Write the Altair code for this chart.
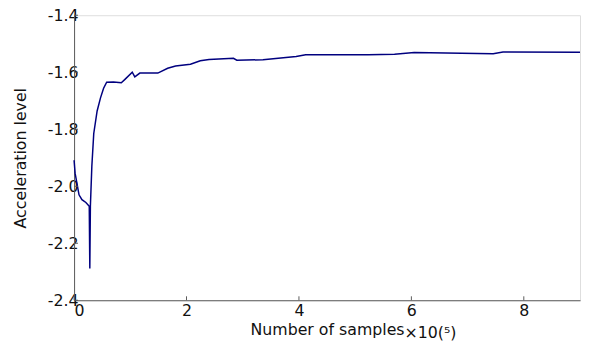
import altair as alt
import pandas as pd

# Curve (x in units of 1e5 samples)
xs = [0.0, 0.018, 0.088, 0.14, 0.21, 0.27, 0.28, 0.29, 0.316, 0.35, 0.41, 0.47,
      0.525, 0.58, 0.70, 0.84, 0.905, 1.035, 1.08, 1.17, 1.49, 1.665, 1.805,
      2.07, 2.245, 2.40, 2.835, 2.895, 3.36, 3.95, 4.12, 5.23, 5.70, 6.05,
      7.455, 7.63, 9.0]
ys = [-1.909, -1.954, -2.030, -2.047, -2.057, -2.070, -2.289, -2.070, -1.930,
      -1.815, -1.736, -1.690, -1.656, -1.635, -1.634, -1.637, -1.625, -1.600,
      -1.616, -1.603, -1.603, -1.586, -1.578, -1.572, -1.560, -1.555, -1.551,
      -1.558, -1.556, -1.545, -1.539, -1.539, -1.537, -1.531, -1.535, -1.529,
      -1.530]
x_ticks = [0, 2, 4, 6, 8]
y_ticks = [-2.4, -2.2, -2.0, -1.8, -1.6, -1.4]

W, H = 513, 289
FONT = "DejaVu Sans"

df = pd.DataFrame({"x": xs, "y": ys, "o": list(range(len(xs)))})
xt = pd.DataFrame({"t": x_ticks})
yt = pd.DataFrame({"t": y_ticks})

xscale = alt.Scale(domain=[0, 9], nice=False, zero=False)
yscale = alt.Scale(domain=[-2.4, -1.4], nice=False, zero=False)

line = alt.Chart(df).mark_line(color="#00007f", strokeWidth=1.5).encode(
    x=alt.X("x:Q", scale=xscale,
            axis=alt.Axis(values=x_ticks, title="Number of samples", tickSize=0,
                          format="d", labelPadding=2, grid=False,
                          domainColor="#5a5a5a",
                          labelFontSize=16, labelFont=FONT, labelColor="#111",
                          titleFontSize=16, titleFont=FONT, titleFontWeight="normal",
                          titleColor="#111", titlePadding=4)),
    y=alt.Y("y:Q", scale=yscale,
            axis=alt.Axis(values=y_ticks, title="Acceleration level", tickSize=0,
                          labelPadding=-4, grid=False, domainColor="#5a5a5a",
                          labelExpr="replace(format(datum.value, '.1f'), '\u2212', '-')",
                          labelFontSize=16, labelFont=FONT,
                          labelColor="#111", titleFontSize=16, titleFont=FONT,
                          titleFontWeight="normal", titleColor="#111",
                          titlePadding=19)),
    order="o:Q",
)

xtick_marks = alt.Chart(xt).mark_rule(color="#5a5a5a").encode(
    x=alt.X("t:Q", scale=xscale), y=alt.value(H), y2=alt.value(H - 4))
ytick_marks = alt.Chart(yt).mark_rule(color="#5a5a5a").encode(
    y=alt.Y("t:Q", scale=yscale), x=alt.value(0), x2=alt.value(4))

exp_text = alt.Chart(pd.DataFrame({"s": ["×10(⁵)"]})).mark_text(
    align="left", baseline="middle", fontSize=16, font=FONT, color="#111"
).encode(x=alt.value(335), y=alt.value(322), text="s:N")

chart = alt.layer(line, xtick_marks, ytick_marks, exp_text).properties(
    width=W, height=H,
    autosize=alt.AutoSizeParams(type="none"),
    padding={"left": 67, "top": 5, "right": 2, "bottom": 40},
).configure_view(stroke="#333", strokeWidth=1).configure(background="white")

chart.save("out.html", embed_options={"renderer": "svg", "actions": False})
